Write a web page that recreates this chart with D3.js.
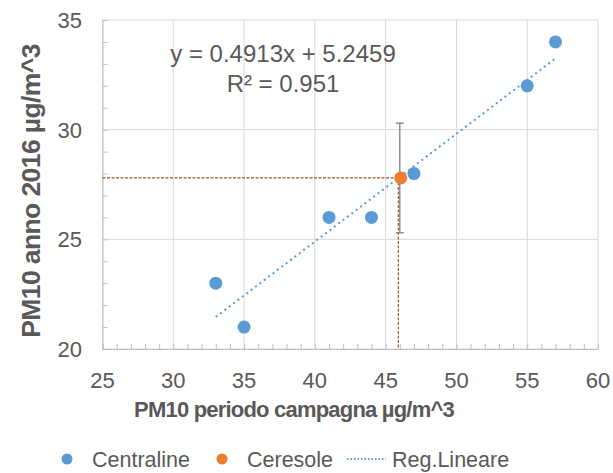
<!DOCTYPE html>
<html>
<head>
<meta charset="utf-8">
<script src="https://cdn.jsdelivr.net/npm/d3@7"></script>
<style>
  body { margin: 0; background: #fff; }
  text { font-family: "Liberation Sans", Arial, sans-serif; fill: #595959; }
</style>
</head>
<body>
<svg id="chart" width="613" height="473"></svg>
<script>
// data
var centralineX = [33, 35, 41, 44, 47, 55, 57];
var centralineY = [23, 21, 26, 26, 28, 32, 34];
var ceresoleX = [46];
var ceresoleY = [27.8];
var ceresoleErr = [2.5];
var regSlope = 0.4913, regIntercept = 5.2459;
var regRange = [33, 57];
var xTicks = [25, 30, 35, 40, 45, 50, 55, 60];
var yTicks = [20, 25, 30, 35];
var legendLabels = ["Centraline", "Ceresole", "Reg.Lineare"];

var blue = "#5b9bd5", orange = "#ed7d31", drop = "#a0522d";

var svg = d3.select("#chart");
var x = d3.scaleLinear().domain([25, 60]).range([102.5, 598]);
var y = d3.scaleLinear().domain([20, 35]).range([349, 20]);

// gridlines
svg.append("g").selectAll("line").data(xTicks).enter().append("line")
  .attr("x1", function(d) { return x(d); }).attr("x2", function(d) { return x(d); })
  .attr("y1", y(35)).attr("y2", y(20))
  .attr("stroke", "#d9d9d9").attr("stroke-width", 1);
svg.append("g").selectAll("line").data(yTicks).enter().append("line")
  .attr("x1", x(25)).attr("x2", x(60))
  .attr("y1", function(d) { return y(d); }).attr("y2", function(d) { return y(d); })
  .attr("stroke", "#d9d9d9").attr("stroke-width", 1);

// axes with minor ticks pointing inward
var xAxis = svg.append("g").attr("transform", "translate(0," + y(20) + ")")
  .call(d3.axisTop(x).ticks(35).tickSize(5).tickFormat(""));
var yAxis = svg.append("g").attr("transform", "translate(" + x(25) + ",0)")
  .call(d3.axisRight(y).ticks(15).tickSize(5).tickFormat(""));
[xAxis, yAxis].forEach(function(g) {
  g.selectAll("path, line").attr("stroke", "#bfbfbf");
});

// tick labels
svg.append("g").selectAll("text").data(xTicks).enter().append("text")
  .attr("x", function(d) { return x(d); }).attr("y", 388)
  .attr("text-anchor", "middle").attr("font-size", 22)
  .text(function(d) { return d; });
svg.append("g").selectAll("text").data(yTicks).enter().append("text")
  .attr("x", 82).attr("y", function(d) { return y(d) + 8; })
  .attr("text-anchor", "end").attr("font-size", 22)
  .text(function(d) { return d; });

// axis titles
svg.append("text").attr("x", 294).attr("y", 417)
  .attr("text-anchor", "middle").attr("font-size", 22).attr("font-weight", "bold")
  .attr("letter-spacing", -0.8)
  .text("PM10 periodo campagna µg/m^3");
svg.append("text").attr("transform", "translate(40,191) rotate(-90)")
  .attr("text-anchor", "middle").attr("font-size", 26.5).attr("font-weight", "bold")
  .attr("letter-spacing", -0.6)
  .text("PM10 anno 2016 µg/m^3");

// drop lines to the Ceresole point
ceresoleX.forEach(function(cx, i) {
  var cy = ceresoleY[i];
  svg.append("line").attr("x1", x(25)).attr("x2", x(cx))
    .attr("y1", y(cy)).attr("y2", y(cy))
    .attr("stroke", drop).attr("stroke-width", 1.2).attr("stroke-dasharray", "3,1.5");
  svg.append("line").attr("x1", x(cx) - 1.5).attr("x2", x(cx) - 1.5)
    .attr("y1", y(cy)).attr("y2", y(20))
    .attr("stroke", drop).attr("stroke-width", 1.2).attr("stroke-dasharray", "3,1.5");
});

// regression line
svg.append("line")
  .attr("x1", x(regRange[0])).attr("y1", y(regSlope * regRange[0] + regIntercept))
  .attr("x2", x(regRange[1])).attr("y2", y(regSlope * regRange[1] + regIntercept))
  .attr("stroke", blue).attr("stroke-width", 2).attr("stroke-dasharray", "2,3.5");

// error bar
ceresoleX.forEach(function(cx, i) {
  var g = svg.append("g").attr("stroke", "#7f7f7f").attr("stroke-width", 1.3);
  var top = y(ceresoleY[i] + ceresoleErr[i]), bot = y(ceresoleY[i] - ceresoleErr[i]);
  g.append("line").attr("x1", x(cx)).attr("x2", x(cx)).attr("y1", top).attr("y2", bot);
  g.append("line").attr("x1", x(cx) - 4).attr("x2", x(cx) + 4).attr("y1", top).attr("y2", top);
  g.append("line").attr("x1", x(cx) - 4).attr("x2", x(cx) + 4).attr("y1", bot).attr("y2", bot);
});

// points
svg.append("g").selectAll("circle").data(centralineX).enter().append("circle")
  .attr("cx", function(d) { return x(d); })
  .attr("cy", function(d, i) { return y(centralineY[i]); })
  .attr("r", 6.5).attr("fill", blue);
svg.append("g").selectAll("circle").data(ceresoleX).enter().append("circle")
  .attr("cx", function(d) { return x(d) + 1; })
  .attr("cy", function(d, i) { return y(ceresoleY[i]); })
  .attr("r", 6.5).attr("fill", orange);

// equation
svg.append("text").attr("x", 283).attr("y", 62).attr("text-anchor", "middle")
  .attr("font-size", 24).text("y = 0.4913x + 5.2459");
svg.append("text").attr("x", 283).attr("y", 92).attr("text-anchor", "middle")
  .attr("font-size", 24).text("R² = 0.951");

// legend
var leg = svg.append("g");
leg.append("circle").attr("cx", 67).attr("cy", 459).attr("r", 5.5).attr("fill", blue);
leg.append("text").attr("x", 92).attr("y", 467).attr("font-size", 21.5).text(legendLabels[0]);
leg.append("circle").attr("cx", 222).attr("cy", 459).attr("r", 5.5).attr("fill", orange);
leg.append("text").attr("x", 247).attr("y", 467).attr("font-size", 21.5).text(legendLabels[1]);
leg.append("line").attr("x1", 347).attr("x2", 386).attr("y1", 459).attr("y2", 459)
  .attr("stroke", blue).attr("stroke-width", 2).attr("stroke-dasharray", "1.5,2");
leg.append("text").attr("x", 392).attr("y", 467).attr("font-size", 21.5).text(legendLabels[2]);
</script>
</body>
</html>
